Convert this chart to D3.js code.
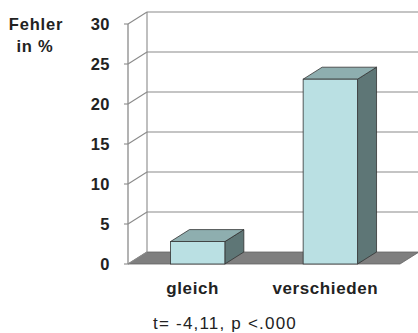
<!DOCTYPE html>
<html>
<head>
<meta charset="utf-8">
<script src="https://cdn.jsdelivr.net/npm/d3@7"></script>
<style>
  body { margin: 0; background: #fff; }
  text { font-family: Arial, "Liberation Sans", sans-serif; }
</style>
</head>
<body>
<div id="chart"></div>
<script>
// data
const categories = ["gleich", "verschieden"];
const values = [2.8, 23.1];
const yTicks = [0, 5, 10, 15, 20, 25, 30];
const footnote = "t= -4,11, p <.000";

const width = 418, height = 333;
// 3d depth offset
const dx = 19, dy = -12;

const svg = d3.select("#chart").append("svg")
  .attr("width", width)
  .attr("height", height);

const x = d3.scaleBand()
  .domain(categories)
  .range([128, 400])
  .paddingInner(0.59)
  .paddingOuter(0.32);

const y = d3.scaleLinear()
  .domain([0, 30])
  .range([264, 24]);

const x0 = x.range()[0], x1 = x.range()[1];

// floor
svg.append("polygon")
  .attr("points", [[x0, y(0)], [x1, y(0)], [x1 + dx, y(0) + dy], [x0 + dx, y(0) + dy]].join(" "))
  .attr("fill", "#7f7f7f")
  .attr("stroke", "#666")
  .attr("stroke-width", 0.8);

// back wall grid lines
svg.selectAll(".grid")
  .data(yTicks.filter(d => d > 0))
  .enter()
  .append("line")
  .attr("x1", x0 + dx)
  .attr("x2", width + 5)
  .attr("y1", d => y(d) + dy)
  .attr("y2", d => y(d) + dy)
  .attr("stroke", "#8a8a8a")
  .attr("stroke-width", 1.2);

// left wall: diagonals
svg.selectAll(".diag")
  .data(yTicks)
  .enter()
  .append("line")
  .attr("x1", x0)
  .attr("y1", d => y(d))
  .attr("x2", x0 + dx)
  .attr("y2", d => y(d) + dy)
  .attr("stroke", "#8a8a8a")
  .attr("stroke-width", 1.1);

// back vertical edge
svg.append("line")
  .attr("x1", x0 + dx).attr("x2", x0 + dx)
  .attr("y1", y(30) + dy).attr("y2", y(0) + dy)
  .attr("stroke", "#8a8a8a")
  .attr("stroke-width", 1.1);

// front axis
svg.append("line")
  .attr("x1", x0).attr("x2", x0)
  .attr("y1", y(30)).attr("y2", y(0))
  .attr("stroke", "#8a8a8a")
  .attr("stroke-width", 1.3);

// small tick marks
svg.selectAll(".tick")
  .data(yTicks)
  .enter()
  .append("line")
  .attr("x1", x0 - 4)
  .attr("x2", x0)
  .attr("y1", d => y(d))
  .attr("y2", d => y(d))
  .attr("stroke", "#8a8a8a")
  .attr("stroke-width", 1.1);

// tick labels
svg.selectAll(".ylab")
  .data(yTicks)
  .enter()
  .append("text")
  .attr("x", 110)
  .attr("y", d => y(d) + 6)
  .attr("text-anchor", "end")
  .style("font-size", "16.5px")
  .style("font-weight", "bold")
  .style("letter-spacing", "0.5px")
  .style("fill", "#222")
  .text(d => d);

// axis title
svg.append("text")
  .attr("x", 36).attr("y", 30)
  .attr("text-anchor", "middle")
  .style("font-size", "16.5px")
  .style("font-weight", "bold")
  .style("letter-spacing", "0.8px")
  .style("fill", "#222")
  .text("Fehler");
svg.append("text")
  .attr("x", 35).attr("y", 52)
  .attr("text-anchor", "middle")
  .style("font-size", "16.5px")
  .style("font-weight", "bold")
  .style("letter-spacing", "0.8px")
  .style("fill", "#222")
  .text("in %");

// bars
const bars = svg.selectAll(".bar")
  .data(categories.map((c, i) => ({ cat: c, val: values[i] })))
  .enter()
  .append("g")
  .attr("class", "bar");

// side
bars.append("polygon")
  .attr("points", d => {
    const r = x(d.cat) + x.bandwidth();
    return [[r, y(0)], [r + dx, y(0) + dy], [r + dx, y(d.val) + dy], [r, y(d.val)]].join(" ");
  })
  .attr("fill", "#5e7676")
  .attr("stroke", "#333")
  .attr("stroke-width", 0.8);

// top
bars.append("polygon")
  .attr("points", d => {
    const l = x(d.cat), r = l + x.bandwidth(), t = y(d.val);
    return [[l, t], [r, t], [r + dx, t + dy], [l + dx, t + dy]].join(" ");
  })
  .attr("fill", "#8eaeaf")
  .attr("stroke", "#333")
  .attr("stroke-width", 0.8);

// front
bars.append("rect")
  .attr("x", d => x(d.cat))
  .attr("y", d => y(d.val))
  .attr("width", x.bandwidth())
  .attr("height", d => y(0) - y(d.val))
  .attr("fill", "#bae0e3")
  .attr("stroke", "#333")
  .attr("stroke-width", 0.8);

// category labels
svg.selectAll(".xlab")
  .data(categories)
  .enter()
  .append("text")
  .attr("x", d => x(d) + x.bandwidth() / 2 - 5)
  .attr("y", 294)
  .attr("text-anchor", "middle")
  .style("font-size", "17px")
  .style("font-weight", "bold")
  .style("letter-spacing", "0.6px")
  .style("fill", "#222")
  .text(d => d);

// footnote
svg.append("text")
  .attr("x", 225).attr("y", 329)
  .attr("text-anchor", "middle")
  .style("font-size", "17px")
  .style("letter-spacing", "1.2px")
  .style("fill", "#222")
  .text(footnote);
</script>
</body>
</html>
